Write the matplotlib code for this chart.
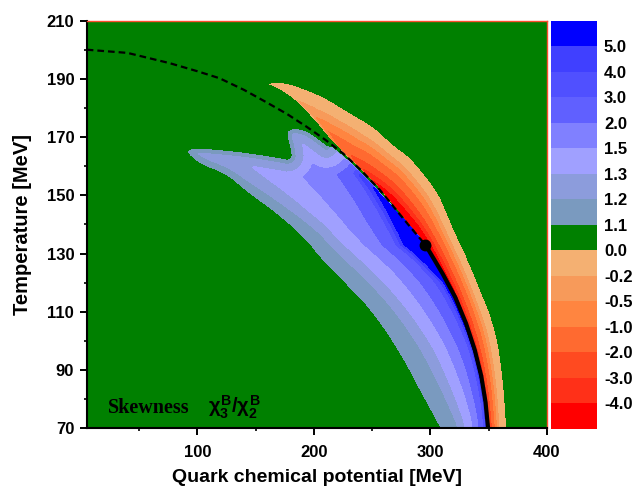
from __future__ import annotations

import matplotlib

matplotlib.use("Agg")

import matplotlib.pyplot as plt
import numpy as np
from matplotlib.path import Path

# crossover line (dashed above the CEP) and first-order line (solid below), mu [MeV], T [MeV]
LINE_MU = [5, 40, 76, 100, 119, 140, 159, 177, 193.5, 210, 225, 241, 256.7, 270, 282.5,
           295.7, 303.2, 310.6, 321.3, 330.6, 338.0, 343.6, 347.3, 349.5]
LINE_T = [200, 198.9, 195.4, 192.6, 190.2, 186.2, 182.0, 177.9, 173.6, 169.0, 164.4, 158.4, 151.8,
          145.3, 139.2, 133.0, 128.0, 123.0, 115.0, 106.0, 97.0, 88.0, 79.0, 70.0]
CEP_MU = 295.7
CEP_T = 133.0

# edge of the positive region (chi3/chi2 = 1.1): lower edge up to the tongue tip ...
BLUE_LOW_MU = [309.4, 291, 273, 250, 230.7, 203, 195, 170, 142, 124.9, 104.8, 96, 91.9]
BLUE_LOW_T = [70, 83.5, 97, 110.5, 118.6, 130, 134.7, 143.5, 151.8, 157.6, 160.6, 163.2, 165]
# ... and upper edge from the tip over the notch and the peak back to the line
BLUE_TOP_MU = [91.9, 97, 110.6, 139, 167.8, 182, 180.7, 176.9, 182, 193.6, 210.7]
BLUE_TOP_T = [165, 165.8, 165.6, 164.5, 162.7, 161.6, 166.7, 171.3, 172.7, 171.9, 166.7]

# negative crescent: upper inner edge (where it leaves the line) and outer edge
RED_UPPER_MU = [213, 203, 190, 175, 164, 159]
RED_UPPER_T = [169.3, 174.3, 180.0, 185.0, 187.2, 188.0]
RED_OUTER_MU = [159, 164, 172, 185, 200, 212, 240, 254, 271, 283, 304, 313, 321, 333, 345, 357,
                363, 366]
RED_OUTER_T = [188.0, 189.0, 189.2, 187.7, 185.5, 183.2, 176.5, 172.8, 166.7, 163.3, 153, 146, 138,
               128, 116, 104, 88, 70]

LEVELS = [-4.0, -3.0, -2.0, -1.0, -0.5, -0.2, 0.0, 1.1, 1.2, 1.3, 1.5, 2.0, 3.0, 4.0, 5.0]
BAND_COLORS = ["#ff0000", "#ff3018", "#ff4a20", "#ff6a30", "#ff8540", "#f79a5a", "#f4b072",
               "#008000",
               "#7a9abf", "#8c9cdc", "#a0a0ff", "#8080ff", "#6060ff", "#5050ff", "#4040ff", "#0000ff"]

# relative depth (0 = line, 1 = lower edge) of each positive level in horizontal cuts at T
BLUE_S = [70, 97, 120, 133, 140, 145, 152, 160, 167, 175, 195]
POS_1_2 = [0.65, 0.72, 0.80, 0.82, 0.85, 0.87, 0.89, 0.92, 0.93, 0.93, 0.93]
POS_1_3 = [0.49, 0.55, 0.66, 0.70, 0.72, 0.74, 0.74, 0.74, 0.74, 0.74, 0.74]
POS_1_5 = [0.31, 0.37, 0.47, 0.53, 0.53, 0.53, 0.50, 0.45, 0.32, 0.15, 0.0]
POS_2_0 = [0.18, 0.21, 0.29, 0.38, 0.33, 0.29, 0.24, 0.17, 0.05, 0.0, 0.0]
POS_3_0 = [0.08, 0.07, 0.13, 0.26, 0.19, 0.14, 0.09, 0.03, 0.0, 0.0, 0.0]
POS_4_0 = [0.04, 0.035, 0.07, 0.22, 0.15, 0.10, 0.05, 0.005, 0.0, 0.0, 0.0]
POS_5_0 = [0.015, 0.015, 0.04, 0.19, 0.12, 0.065, 0.004, 0.0, 0.0, 0.0, 0.0]
BLUE_VALUES = [1.1, 1.2, 1.3, 1.5, 2.0, 3.0, 4.0, 5.0, 6.0]
# distance (px) below the upper edge at which each level is reached
TOP_DIST = [0, 4, 12, 22, 30, 38, 44, 50, 56]

# depth of the negative crescent vs. T along its inner edge
RED_S = [70, 104, 138, 148, 155, 159, 163.5, 172, 177, 183, 188.5]
RED_DEPTH = [4.8, 4.9, 6.8, 6.0, 4.0, 3.0, 2.0, 1.0, 0.5, 0.2, 0.02]
RED_POWER = [3.2, 2.65, 2.26, 2.2, 2.1, 2.0, 2.0, 1.9, 1.8, 1.7, 1.6]
RED_PEAK = [0.0, 0.0, 0.0, 0.0, 0.05, 0.08, 0.1, 0.12, 0.12, 0.12, 0.12]
RED_EDGE = [1.0, 1.0, 1.0, 1.0, 1.0, 0.9, 0.7, 0.2, 0.0, 0.0, 0.0]

MU_LIM = (5, 400)
T_LIM = (70, 210)
FIG_W, FIG_H = 6.33, 4.90
AX_RECT = (0.137, 0.126, 0.727, 0.832)
CB_RECT = (0.8705, 0.1245, 0.0727, 0.8327)


def _smooth(xs, ys, rounds=3):
    # Chaikin corner cutting, end points kept, for the region outlines
    x, y = np.asarray(xs, float), np.asarray(ys, float)
    for _ in range(rounds):
        qx = 0.75 * x[:-1] + 0.25 * x[1:]
        qy = 0.75 * y[:-1] + 0.25 * y[1:]
        rx = 0.25 * x[:-1] + 0.75 * x[1:]
        ry = 0.25 * y[:-1] + 0.75 * y[1:]
        x = np.r_[x[0], np.column_stack([qx, rx]).ravel(), x[-1]]
        y = np.r_[y[0], np.column_stack([qy, ry]).ravel(), y[-1]]
    return x, y


def _nearest(px, py, xs, ys, ts):
    x0, y0 = xs[:-1], ys[:-1]
    dx, dy = np.diff(xs), np.diff(ys)
    len2 = np.maximum(dx * dx + dy * dy, 1e-12)
    dist = np.empty(px.size)
    tpar = np.empty(px.size)
    for start in range(0, px.size, 8000):
        sl = slice(start, start + 8000)
        qx, qy = px[sl, None], py[sl, None]
        t = np.clip(((qx - x0) * dx + (qy - y0) * dy) / len2, 0.0, 1.0)
        d2 = (qx - x0 - t * dx) ** 2 + (qy - y0 - t * dy) ** 2
        j = np.argmin(d2, axis=1)
        r = np.arange(j.size)
        dist[sl] = np.sqrt(d2[r, j])
        tpar[sl] = ts[j] + t[r, j] * (ts[j + 1] - ts[j])
    return dist, tpar


def _build_field(mu_grid, t_grid):
    # distances in figure pixels so the bands keep their look on screen
    sx = AX_RECT[2] * FIG_W * 100 / (MU_LIM[1] - MU_LIM[0])
    sy = AX_RECT[3] * FIG_H * 100 / (T_LIM[1] - T_LIM[0])
    mm, tt = np.meshgrid(mu_grid, t_grid)
    t_pt = np.maximum(tt.ravel(), 70.2)
    px, py = mm.ravel() * sx, t_pt * sy
    pts = np.column_stack([px, py])

    line_mu, line_t = np.array(LINE_MU), np.array(LINE_T)
    lmu, lt = _smooth(line_mu, line_t, 2)
    d_line, s_line = _nearest(px, py, lmu * sx, lt * sy, lt)

    low_mu, low_t = _smooth(BLUE_LOW_MU, BLUE_LOW_T, 3)
    top_mu, top_t = _smooth(BLUE_TOP_MU, BLUE_TOP_T, 2)
    d_low, _ = _nearest(px, py, low_mu * sx, low_t * sy, low_t)
    d_top, _ = _nearest(px, py, top_mu * sx, top_t * sy, top_t)
    below = lt < BLUE_TOP_T[-1]
    poly_b = np.column_stack([np.r_[low_mu, top_mu, lmu[below]] * sx,
                              np.r_[low_t, top_t, lt[below]] * sy])
    in_blue = Path(poly_b).contains_points(pts)

    low = lt <= 164.5
    up_mu, up_t = _smooth(np.r_[lmu[low][0], RED_UPPER_MU], np.r_[lt[low][0], RED_UPPER_T], 2)
    rin_mu = np.r_[lmu[low][::-1], up_mu[1:]]
    rin_t = np.r_[lt[low][::-1], up_t[1:]]
    rout_mu, rout_t = _smooth(RED_OUTER_MU, RED_OUTER_T, 3)
    d_rin, s_red = _nearest(px, py, rin_mu * sx, rin_t * sy, rin_t)
    d_rout, _ = _nearest(px, py, rout_mu * sx, rout_t * sy, rout_t)
    poly_r = np.column_stack([np.r_[rin_mu, rout_mu] * sx, np.r_[rin_t, rout_t] * sy])
    in_red = Path(poly_r).contains_points(pts)

    # green background, graded towards the edges so contours sit smoothly
    d_bout = np.minimum(d_low, d_top)
    field = np.where(d_bout < d_rout, np.maximum(0.55, 1.1 - 0.04 * d_bout),
                     np.minimum(0.55, 0.04 * d_rout))

    # positive region: bands from the lower edge, capped by bands under the upper edge
    gap = np.interp(s_line, [140, 150], [0.0, 2.5])
    depth = np.maximum(d_line - gap, 0.0)
    fb = depth / np.maximum(depth + d_low, 1e-9)
    cols = [np.ones(len(BLUE_S)), POS_1_2, POS_1_3, POS_1_5, POS_2_0, POS_3_0, POS_4_0, POS_5_0]
    pos = np.stack([np.interp(t_pt, BLUE_S, c) for c in cols] + [np.zeros(px.size)], axis=1)
    pos = np.minimum.accumulate(pos, axis=1)
    idx = np.full(px.size, -1.0)
    for k in range(8):
        hi, lo = pos[:, k], pos[:, k + 1]
        m = (fb < hi) & (fb >= lo)
        idx[m] = k + (hi[m] - fb[m]) / np.maximum(hi[m] - lo[m], 1e-9)
    f_low = np.interp(idx, np.arange(9), BLUE_VALUES)
    f_top = np.interp(d_top, TOP_DIST, BLUE_VALUES)
    f_blue = np.minimum(f_low, f_top)
    m_blue = in_blue & (d_line > gap)
    field[m_blue] = f_blue[m_blue]

    # negative crescent
    fr = d_rin / np.maximum(d_rin + d_rout, 1e-9)
    amp = np.interp(s_red, RED_S, RED_DEPTH)
    power = np.interp(s_red, RED_S, RED_POWER)
    f0 = np.interp(s_red, RED_S, RED_PEAK)
    g0 = np.interp(s_red, RED_S, RED_EDGE)
    outer = np.clip((1 - fr) / (1 - f0), 0, 1) ** power
    inner = g0 + (1 - g0) * fr / np.maximum(f0, 1e-6)
    shape = np.where(fr >= f0, outer, np.minimum(inner, 1.0))
    f_red = -amp * shape
    field[in_red] = f_red[in_red]
    return field.reshape(mm.shape)


def main() -> None:
    plt.rcParams.update({
        "font.family": "Liberation Sans",
        "font.weight": "bold",
        "axes.labelweight": "bold",
        "mathtext.fontset": "custom",
        "mathtext.rm": "Liberation Sans:bold",
        "mathtext.it": "Liberation Sans:bold",
        "mathtext.bf": "Liberation Sans:bold",
    })
    fig = plt.figure(figsize=(FIG_W, FIG_H), dpi=100)
    ax = fig.add_axes(AX_RECT)
    cax = fig.add_axes(CB_RECT)

    mu_grid = np.linspace(MU_LIM[0], MU_LIM[1], 480)
    t_grid = np.linspace(T_LIM[0], T_LIM[1], 420)
    field = _build_field(mu_grid, t_grid)

    bounds = [-100.0] + LEVELS + [100.0]
    cs = ax.contourf(mu_grid, t_grid, field, levels=bounds, colors=BAND_COLORS)
    cs.set_edgecolor("face")
    cs.set_linewidth(0.3)

    line_mu, line_t = np.array(LINE_MU), np.array(LINE_T)
    upper = line_t >= CEP_T
    lower = line_t <= CEP_T
    ax.plot(line_mu[upper], line_t[upper], color="black", lw=1.6, ls=(0, (3.0, 1.8)))
    ax.plot(line_mu[lower], line_t[lower], color="black", lw=3.0, solid_capstyle="butt")
    ax.plot([CEP_MU], [CEP_T], "o", color="black", ms=7.5)

    ax.text(23, 75.2, "Skewness", family="Liberation Serif", weight="bold", fontsize=14.5)
    ax.text(109, 75.2, r"$\chi_3^B/\chi_2^B$", fontsize=14.5)

    ax.set_xlim(*MU_LIM)
    ax.set_ylim(*T_LIM)
    ax.set_xticks([100, 200, 300, 400])
    ax.set_xticks([50, 150, 250, 350], minor=True)
    ax.set_yticks(np.arange(70, 211, 20))
    ax.set_yticks(np.arange(80, 201, 20), minor=True)
    ax.tick_params(which="major", direction="out", length=5, width=1.4, labelsize=12, pad=4)
    ax.tick_params(which="minor", direction="out", length=2.5, width=1.2)
    ax.tick_params(axis="x", which="major", pad=7)
    ax.set_xlabel("Quark chemical potential [MeV]", fontsize=14)
    ax.set_ylabel("Temperature [MeV]", fontsize=14.5)
    ax.xaxis.set_label_coords(0.5, -0.1)
    ax.yaxis.set_label_coords(-0.119, 0.5)
    for side in ("left", "bottom"):
        ax.spines[side].set_linewidth(1.5)
    for side in ("top", "right"):
        ax.spines[side].set_color("#ff4d2e")
        ax.spines[side].set_linewidth(1.0)

    cb = fig.colorbar(cs, cax=cax, ticks=LEVELS, spacing="uniform")
    cb.outline.set_visible(False)
    cb.ax.tick_params(length=0, pad=5, labelsize=12)
    cb.ax.set_yticklabels([f"{v:.1f}" for v in LEVELS])

    fig.savefig("out.png", dpi=100, facecolor="white")
    plt.close(fig)


if __name__ == "__main__":
    main()
